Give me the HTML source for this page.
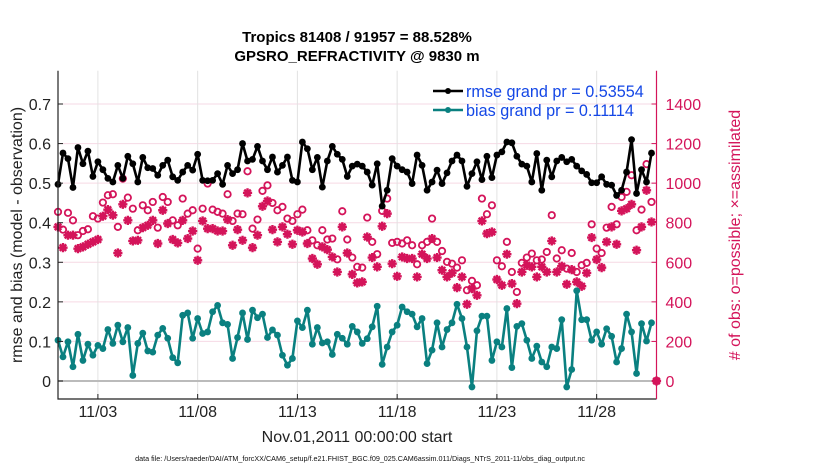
<!DOCTYPE html>
<html><head><meta charset="utf-8"><style>
body{margin:0;background:#fff;}
svg{display:block;font-family:"Liberation Sans",sans-serif;}
</style></head><body>
<svg id="chart" width="830" height="470" viewBox="0 0 830 470">
<text x="357" y="42" text-anchor="middle" font-size="15" font-weight="bold">Tropics 81408 / 91957 = 88.528%</text>
<text x="357" y="61" text-anchor="middle" font-size="15" font-weight="bold">GPSRO_REFRACTIVITY @ 9830 m</text>
<g id="grid"></g><g id="marks"></g><g id="axes"></g>
<text transform="translate(22,235) rotate(-90)" text-anchor="middle" font-size="16" fill="#222">rmse and bias (model - observation)</text>
<text transform="translate(740,235) rotate(-90)" text-anchor="middle" font-size="16" fill="#d4145a"># of obs: o=possible; ×=assimilated</text>
<text x="357" y="442" text-anchor="middle" font-size="16" fill="#222">Nov.01,2011 00:00:00 start</text>
<text x="360" y="461" text-anchor="middle" font-size="7.2" fill="#111">data file: /Users/raeder/DAI/ATM_forcXX/CAM6_setup/f.e21.FHIST_BGC.f09_025.CAM6assim.011/Diags_NTrS_2011-11/obs_diag_output.nc</text>
<g>
<line x1="433" y1="91" x2="463" y2="91" stroke="#000" stroke-width="2.5"/><circle cx="448" cy="91" r="3" fill="#000"/>
<text x="466" y="97" font-size="16.2" fill="#1447e6">rmse grand pr = 0.53554</text>
<line x1="433" y1="110" x2="463" y2="110" stroke="#0a8080" stroke-width="2.5"/><circle cx="448" cy="110" r="3" fill="#0a8080"/>
<text x="466" y="116" font-size="16.2" fill="#1447e6">bias grand pr = 0.11114</text>
</g>
</svg>
<script>
const rmse=[0.497,0.576,0.562,0.489,0.590,0.549,0.581,0.517,0.554,0.534,0.512,0.503,0.545,0.512,0.568,0.549,0.503,0.565,0.539,0.537,0.520,0.545,0.558,0.516,0.507,0.528,0.545,0.533,0.573,0.507,0.506,
0.507,0.524,0.497,0.545,0.524,0.534,0.600,0.556,0.560,0.593,0.556,0.534,0.566,0.528,0.545,0.566,0.507,0.503,0.604,0.587,0.534,0.565,0.490,0.556,0.593,0.573,0.560,0.517,0.543,0.548,
0.543,0.528,0.495,0.549,0.442,0.482,0.562,0.543,0.534,0.528,0.499,0.571,0.545,0.482,0.503,0.533,0.499,0.526,0.556,0.571,0.556,0.492,0.524,0.554,0.509,0.568,0.514,0.571,0.579,0.604,
0.602,0.568,0.548,0.543,0.503,0.575,0.482,0.558,0.516,0.556,0.565,0.554,0.560,0.543,0.531,0.522,0.501,0.501,0.516,0.497,0.495,0.469,0.482,0.528,0.610,0.474,0.534,0.503,0.576];
const bias=[0.103,0.061,0.099,0.036,0.118,0.052,0.093,0.065,0.090,0.082,0.130,0.095,0.141,0.099,0.135,0.014,0.095,0.121,0.076,0.073,0.116,0.133,0.108,0.059,0.046,0.166,0.172,0.108,0.158,0.120,0.124,
0.175,0.191,0.147,0.143,0.057,0.110,0.172,0.105,0.179,0.160,0.169,0.110,0.129,0.116,0.065,0.040,0.057,0.152,0.135,0.179,0.093,0.135,0.096,0.099,0.067,0.118,0.108,0.093,0.138,0.124,
0.095,0.107,0.137,0.189,0.042,0.086,0.124,0.141,0.187,0.175,0.169,0.137,0.158,0.044,0.078,0.147,0.086,0.130,0.147,0.194,0.158,0.086,-0.015,0.127,0.164,0.164,0.052,0.099,0.086,0.183,
0.034,0.138,0.145,0.103,0.057,0.088,0.048,0.036,0.086,0.082,0.155,-0.015,0.029,0.228,0.155,0.155,0.103,0.124,0.093,0.132,0.113,0.048,0.082,0.169,0.124,0.019,0.145,0.101,0.147];
const possible=[855,765,850,812,737,758,767,833,821,902,939,944,779,1023,927,871,762,888,863,905,775,930,905,812,787,922,846,863,669,871,998,
866,855,846,944,809,846,843,1060,770,816,961,989,900,863,880,821,809,843,866,762,711,686,762,715,720,615,858,715,624,577,
573,826,703,641,860,922,698,703,695,711,686,590,686,703,821,703,657,602,593,573,610,459,506,484,922,843,888,610,580,703,
551,450,597,624,644,610,614,652,838,619,661,568,647,551,585,597,792,669,647,775,880,792,930,956,1040,762,866,1096,905,0];
const assimilated=[779,674,737,737,669,678,691,703,715,833,866,838,647,893,812,708,711,775,787,812,695,863,796,715,698,812,720,758,610,809,770,
770,758,758,816,686,765,711,951,674,737,883,910,765,703,779,742,691,762,753,695,619,590,678,664,627,551,779,647,539,496,
501,728,624,577,782,846,593,529,627,619,619,526,641,619,720,624,560,526,546,472,526,388,467,433,809,745,753,513,484,641,
492,391,551,585,577,526,577,551,708,551,580,489,563,501,479,546,725,614,573,703,779,691,860,871,893,661,779,964,804,0];
const leftTicks=[0,0.1,0.2,0.3,0.4,0.5,0.6,0.7];
const rightTicks=[0,200,400,600,800,1000,1200,1400];
const xTickDays=[2,7,12,17,22,27];
const xTickLabels=["11/03","11/08","11/13","11/18","11/23","11/28"];
const stepDays=0.25;

const X0=58,X1=656.5,Y0=70.7,Y1=399;
const xs=d=>X0+d*(X1-X0)/30;
const yl=v=>381-v*395.7;
const yr=c=>381-c*395.7/2000;
const NS="http://www.w3.org/2000/svg";
function mk(tag,attrs,parent){const e=document.createElementNS(NS,tag);for(const k in attrs)e.setAttribute(k,attrs[k]);parent.appendChild(e);return e;}
const grid=document.getElementById('grid'),marks=document.getElementById('marks'),axes=document.getElementById('axes');
rightTicks.forEach(c=>{if(c===0)return;const l=mk('line',{x1:X0,x2:X1,y1:yr(c),y2:yr(c),stroke:'#f6d9e4','stroke-width':1},grid);

});
xTickDays.forEach(d=>{const l=mk('line',{x1:xs(d),x2:xs(d),y1:Y0,y2:Y1,stroke:'#e2e2e2','stroke-width':1},grid);

});
const zl=mk('line',{x1:X0,x2:X1,y1:yl(0),y2:yl(0),stroke:'#bbb','stroke-width':2},grid);


const star=(cx,cy,r)=>{let d='';for(let a=0;a<4;a++){const t=a*Math.PI/4;d+=`M${cx-r*Math.cos(t)},${cy-r*Math.sin(t)}L${cx+r*Math.cos(t)},${cy+r*Math.sin(t)}`;}return d;};
assimilated.forEach((c,i)=>{const p=mk('path',{d:star(xs(i*stepDays),yr(c),4.6),stroke:'#d4145a','stroke-width':2.4,fill:'none'},marks);

});
possible.forEach((c,i)=>{const p=mk('circle',{cx:xs(i*stepDays),cy:yr(c),r:3.2,stroke:'#d4145a','stroke-width':1.8,fill:'none'},marks);

});
function series(arr,color,name){
const pts=arr.map((v,i)=>xs(i*stepDays)+','+yl(v)).join(' ');
const pl=mk('polyline',{points:pts,fill:'none',stroke:color,'stroke-width':2.6,'stroke-linejoin':'round'},marks);


arr.forEach((v,i)=>{const c=mk('circle',{cx:xs(i*stepDays),cy:yl(v),r:3.4,fill:color},marks);

});}
series(bias,'#0a8080','bias');
series(rmse,'#000','rmse');
mk('path',{d:`M${X0},${Y0}V${Y1}H${X1}`,stroke:'#222','stroke-width':1.2,fill:'none'},axes);
mk('line',{x1:X1,x2:X1,y1:Y0,y2:Y1,stroke:'#d4145a','stroke-width':1.2},axes);
leftTicks.forEach(v=>{mk('line',{x1:X0,x2:X0+5,y1:yl(v),y2:yl(v),stroke:'#222'},axes);
const t=mk('text',{x:X0-7,y:yl(v)+6,'text-anchor':'end','font-size':16,fill:'#222'},axes);t.textContent=v===0?'0':v.toFixed(1);

});
rightTicks.forEach(c=>{mk('line',{x1:X1-5,x2:X1,y1:yr(c),y2:yr(c),stroke:'#d4145a'},axes);
const t=mk('text',{x:X1+9,y:yr(c)+6,'font-size':16,fill:'#d4145a'},axes);t.textContent=c;

});
xTickDays.forEach((d,i)=>{mk('line',{x1:xs(d),x2:xs(d),y1:Y1,y2:Y1-5,stroke:'#222'},axes);
const t=mk('text',{x:xs(d),y:417,'text-anchor':'middle','font-size':16,fill:'#222'},axes);t.textContent=xTickLabels[i];

});
</script>
</body></html>
